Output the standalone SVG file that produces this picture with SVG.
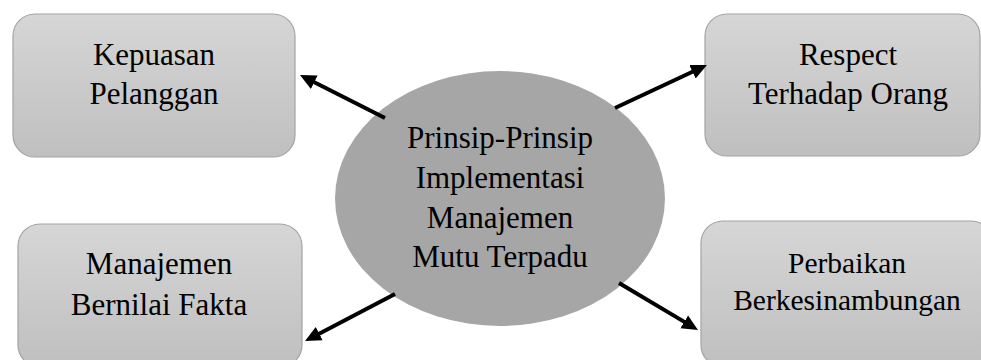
<svg xmlns="http://www.w3.org/2000/svg" width="981" height="360" viewBox="0 0 981 360">
<style>
  .box { fill: url(#boxGrad); stroke: #a3a3a3; stroke-width: 1.2; }
  .conn { stroke: #000; stroke-width: 4; fill: none; marker-end: url(#arrow); }
</style>
<defs>
  <linearGradient id="boxGrad" x1="0" y1="0" x2="0" y2="1">
    <stop offset="0" stop-color="#d6d6d6"/>
    <stop offset="1" stop-color="#bfbfbf"/>
  </linearGradient>
  <marker id="arrow" markerUnits="userSpaceOnUse" markerWidth="18" markerHeight="16" refX="6" refY="7.5" orient="auto" viewBox="0 0 18 15">
    <path d="M0,0 L16,7.5 L0,15 z" fill="#000"/>
  </marker>
</defs>

<g font-family="Liberation Serif, DejaVu Serif, serif" font-size="31" fill="#000" text-anchor="middle">
<g id="center">
  <ellipse cx="500" cy="198.5" rx="165" ry="127.5" fill="#a6a6a6"/>
  <text x="500" y="148">Prinsip-Prinsip</text>
  <text x="500" y="188">Implementasi</text>
  <text x="500" y="228">Manajemen</text>
  <text x="500" y="267">Mutu Terpadu</text>
</g>

<g id="kepuasan">
  <rect class="box" x="13" y="14" width="282" height="143" rx="22"/>
  <text x="154" y="65">Kepuasan</text>
  <text x="154" y="104">Pelanggan</text>
</g>

<g id="respect">
  <rect class="box" x="705" y="14" width="275" height="142" rx="22"/>
  <text x="848" y="65">Respect</text>
  <text x="848" y="104">Terhadap Orang</text>
</g>

<g id="fakta">
  <rect class="box" x="18" y="224" width="284" height="143" rx="22"/>
  <text x="159" y="274">Manajemen</text>
  <text x="159" y="315">Bernilai Fakta</text>
</g>

<g id="perbaikan">
  <rect class="box" x="701" y="221" width="292" height="146" rx="22"/>
  <text x="847" y="273" font-size="29.5">Perbaikan</text>
  <text x="847" y="310" font-size="29.5">Berkesinambungan</text>
</g>
</g>

<g id="connectors">
  <line class="conn" x1="385" y1="118" x2="308.9" y2="79.5"/>
  <line class="conn" x1="615" y1="108" x2="697.9" y2="69.2"/>
  <line class="conn" x1="395" y1="294" x2="313.9" y2="336.4"/>
  <line class="conn" x1="619" y1="283" x2="689.4" y2="324.9"/>
</g>
</svg>
